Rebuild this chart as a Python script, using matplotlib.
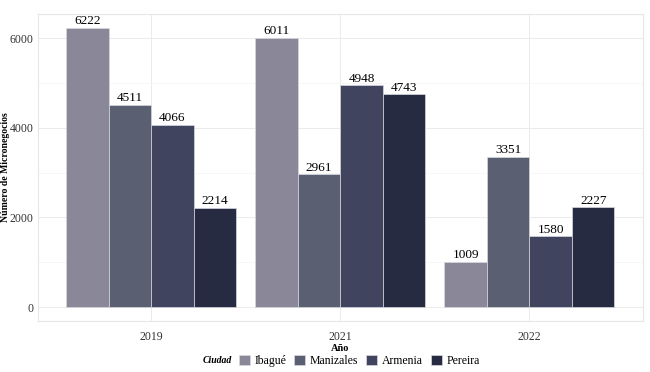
import numpy as np
import matplotlib.pyplot as plt
from matplotlib.offsetbox import HPacker

plt.rcParams['font.family'] = ['Liberation Serif', 'DejaVu Serif']

# Datos
years = ['2019', '2021', '2022']
cities = ['Ibagué', 'Manizales', 'Armenia', 'Pereira']
ibague = [6222, 6011, 1009]
manizales = [4511, 2961, 3351]
armenia = [4066, 4948, 1580]
pereira = [2214, 4743, 2227]
series = [ibague, manizales, armenia, pereira]
colors = ['#8a8898', '#5b5f72', '#41445e', '#272b42']

fig = plt.figure(figsize=(6.5, 3.72), dpi=100)
ax = fig.add_axes([0.058, 0.137, 0.931, 0.825])

x = np.arange(1, len(years) + 1)
w = 0.9 / 4
for i, (vals, c) in enumerate(zip(series, colors)):
    pos = x - 0.45 + w * (i + 0.5)
    bars = ax.bar(pos, vals, width=w, color=c, edgecolor='#d8d8e0',
                  linewidth=0.5, label=cities[i], zorder=3)
    for b, v in zip(bars, vals):
        ax.text(b.get_x() + b.get_width() / 2, v + 15, str(v),
                ha='center', va='bottom', fontsize=9.5, zorder=4)

ymax = max(max(s) for s in series)
ax.set_ylim(-0.05 * ymax, ymax * 1.05)
ax.set_xlim(0.4, 3.6)
ax.set_xticks(x)
ax.set_xticklabels(years)
ax.set_yticks([0, 2000, 4000, 6000])
ax.set_yticks([1000, 3000, 5000], minor=True)
ax.grid(which='major', color='#ebebeb', linewidth=0.7, zorder=0)
ax.grid(which='minor', axis='y', color='#f4f4f4', linewidth=0.5, zorder=0)
ax.tick_params(which='both', length=0, labelsize=8.5, colors='#333333')
ax.tick_params(axis='x', pad=7)
ax.tick_params(axis='y', pad=3)
for s in ax.spines.values():
    s.set_color('#e6e6e6')
    s.set_linewidth(0.8)

ax.set_xlabel('Año', fontsize=7.5, fontweight='bold', labelpad=1)
ax.set_ylabel('Número de Micronegocios', fontsize=7, fontweight='bold')
ax.yaxis.set_label_coords(-0.045, 0.5)

handles, labels = ax.get_legend_handles_labels()
leg = fig.legend(handles, labels, loc='lower center', bbox_to_anchor=(0.525, -0.015),
                 ncol=4, frameon=False, fontsize=8.5, title='Ciudad',
                 handlelength=0.9, handleheight=0.9, handletextpad=0.4,
                 columnspacing=0.7)
leg.get_title().set_fontweight('bold')
leg.get_title().set_fontstyle('italic')
leg.get_title().set_fontsize(7)
# title inline with entries
title_box = leg._legend_title_box
entries = leg._legend_handle_box
leg._legend_box._children = [HPacker(pad=0, sep=5, children=[title_box, entries], align='center')]

fig.savefig('out.png', dpi=100)
